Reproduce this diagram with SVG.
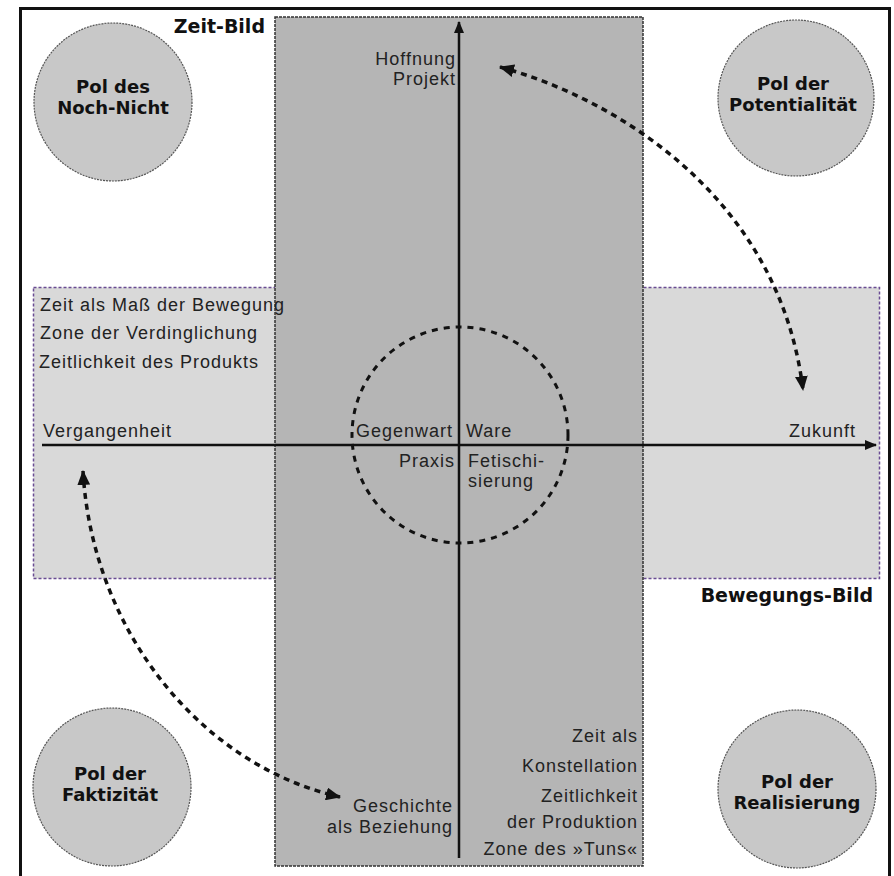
<svg xmlns="http://www.w3.org/2000/svg" width="894" height="876" viewBox="0 0 894 876">
<defs>
<style>
.t{font-family:"Liberation Sans",Arial,sans-serif;font-size:18px;fill:#222;letter-spacing:1px}
.b{font-family:"DejaVu Sans",Verdana,sans-serif;font-weight:bold;font-size:19px;fill:#111}
.p{font-family:"DejaVu Sans",Verdana,sans-serif;font-weight:bold;font-size:18px;fill:#111;text-anchor:middle}
.pole{fill:#c8c8c8;stroke:#555;stroke-width:1.2;stroke-dasharray:2 1}
.axis{stroke:#111;stroke-width:2.5;fill:none}
.dash{stroke:#111;stroke-width:3.5;fill:none;stroke-dasharray:6 5}
</style>
<marker id="ah" viewBox="0 0 12 10" refX="11" refY="5" markerWidth="12" markerHeight="10" markerUnits="userSpaceOnUse" orient="auto">
<path d="M0,0 L12,5 L0,10 Z" fill="#111"/>
</marker>
<marker id="dh" viewBox="0 0 14 12" refX="13" refY="6" markerWidth="15" markerHeight="13" markerUnits="userSpaceOnUse" orient="auto-start-reverse">
<path d="M0,0 L14,6 L0,12 Z" fill="#111"/>
</marker>
</defs>
<rect x="0" y="0" width="894" height="876" fill="#fff"/>
<rect x="20.5" y="8.5" width="869" height="880" fill="#fff" stroke="#111" stroke-width="3"/>

<g id="bewegungs-bild">
<rect x="33.5" y="287.5" width="846" height="291" fill="#d9d9d9" stroke="#6a4c93" stroke-width="1.5" stroke-dasharray="3 2"/>
<text class="b" x="873" y="602" text-anchor="end">Bewegungs-Bild</text>
</g>
<g id="zeit-bild">
<rect x="275" y="17" width="368" height="849" fill="#b5b5b5" stroke="#333" stroke-width="1.5" stroke-dasharray="3 1"/>
<text class="b" x="265" y="33" text-anchor="end">Zeit-Bild</text>
</g>

<g id="gegenwart-zone">
<circle cx="460" cy="435" r="108" fill="none" stroke="#111" stroke-width="3" stroke-dasharray="6 6"/>
</g>

<g id="connectors">
<line class="axis" x1="42" y1="445" x2="876" y2="445" marker-end="url(#ah)"/>
<line class="axis" x1="459" y1="858" x2="459" y2="22" marker-end="url(#ah)"/>
<path class="dash" d="M500,67 C620,100 780,200 803,390" marker-start="url(#dh)" marker-end="url(#dh)"/>
<path class="dash" d="M83,471 C92,630 200,765 340,797" marker-start="url(#dh)" marker-end="url(#dh)"/>
</g>

<g id="pol-noch-nicht">
<circle class="pole" cx="113" cy="102" r="79"/>
<text class="p" x="113" y="93">Pol des</text>
<text class="p" x="113" y="114">Noch-Nicht</text>
</g>
<g id="pol-potentialitaet">
<circle class="pole" cx="796" cy="98" r="78"/>
<text class="p" x="793" y="90">Pol der</text>
<text class="p" x="793" y="111">Potentialität</text>
</g>
<g id="pol-faktizitaet">
<circle class="pole" cx="112" cy="787" r="79"/>
<text class="p" x="110" y="780">Pol der</text>
<text class="p" x="110" y="801">Faktizität</text>
</g>
<g id="pol-realisierung">
<circle class="pole" cx="797" cy="789" r="79"/>
<text class="p" x="797" y="788">Pol der</text>
<text class="p" x="797" y="809">Realisierung</text>
</g>

<g id="labels">
<text class="t" x="456" y="65" text-anchor="end">Hoffnung</text>
<text class="t" x="456" y="85" text-anchor="end">Projekt</text>
<text class="t" x="40" y="311">Zeit als Maß der Bewegung</text>
<text class="t" x="40" y="339">Zone der Verdinglichung</text>
<text class="t" x="39" y="368">Zeitlichkeit des Produkts</text>
<text class="t" x="43" y="437">Vergangenheit</text>
<text class="t" x="356" y="437">Gegenwart</text>
<text class="t" x="466" y="437">Ware</text>
<text class="t" x="455" y="467" text-anchor="end">Praxis</text>
<text class="t" x="468" y="467">Fetischi-</text>
<text class="t" x="468" y="487">sierung</text>
<text class="t" x="789" y="437">Zukunft</text>
<text class="t" x="638" y="742" text-anchor="end">Zeit als</text>
<text class="t" x="638" y="772" text-anchor="end">Konstellation</text>
<text class="t" x="638" y="802" text-anchor="end">Zeitlichkeit</text>
<text class="t" x="638" y="828" text-anchor="end">der Produktion</text>
<text class="t" x="638" y="855" text-anchor="end">Zone des »Tuns«</text>
<text class="t" x="453" y="812" text-anchor="end">Geschichte</text>
<text class="t" x="453" y="833" text-anchor="end">als Beziehung</text>
</g>
</svg>
